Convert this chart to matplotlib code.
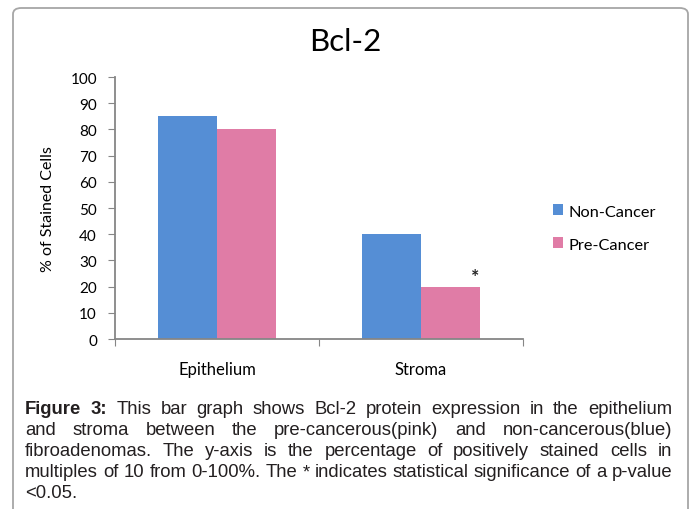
import matplotlib
matplotlib.use("Agg")
import matplotlib.pyplot as plt
from matplotlib.patches import FancyBboxPatch
import numpy as np

categories = ["Epithelium", "Stroma"]
series_names = ["Non-Cancer", "Pre-Cancer"]
non_cancer = [85, 40]
pre_cancer = [80, 20]
yticks = [0, 10, 20, 30, 40, 50, 60, 70, 80, 90, 100]
title = "Bcl-2"
ylabel = "% of Stained Cells"
colors = ["#558ed5", "#e07ca6"]

caption_lines = [
    [("Figure", True), ("3:", True), ("This", False), ("bar", False), ("graph", False), ("shows", False),
     ("Bcl-2", False), ("protein", False), ("expression", False), ("in", False), ("the", False), ("epithelium", False)],
    [(w, False) for w in "and stroma between the pre-cancerous(pink) and non-cancerous(blue)".split()],
    [(w, False) for w in "fibroadenomas. The y-axis is the percentage of positively stained cells in".split()],
    [(w, False) for w in "multiples of 10 from 0-100%.  The * indicates statistical significance of a p-value".split()],
    [(w, False) for w in "<0.05.".split()],
]

W, H = 694, 510
fig = plt.figure(figsize=(W / 100, H / 100), dpi=100)
fig.patch.set_facecolor("white")

FONT = "Lato"
CAP_FONT, cap_fs = "Liberation Sans", 13.3

# outer rounded frame
frame = FancyBboxPatch((13 / W, -0.05), (688 - 13) / W, (H - 9) / H + 0.05,
                       boxstyle="round,pad=0,rounding_size=0.012",
                       transform=fig.transFigure, facecolor="none",
                       edgecolor="#a6a6a6", linewidth=1.3, clip_on=False)
fig.patches.append(frame)

ax = fig.add_axes([115 / W, (H - 340) / H, (523 - 115) / W, (340 - 78) / H])
x = np.arange(len(categories))
bw = 0.287
ax.bar(x - bw / 2, non_cancer, bw, color=colors[0], label=series_names[0])
ax.bar(x + bw / 2, pre_cancer, bw, color=colors[1], label=series_names[1])
ax.annotate("*", (x[1] + bw / 2, pre_cancer[1]), xytext=(18, 1), textcoords="offset points",
            ha="center", va="bottom", fontsize=14, fontweight="bold", fontfamily=FONT, color="#222222")

ax.set_xlim(-0.5, 1.5)
ax.set_ylim(0, 100)
ax.set_yticks(yticks)
ax.set_yticklabels([str(v) for v in yticks], fontsize=11, fontfamily=FONT)
ax.set_xticks([-0.5, 0.5, 1.5])
ax.set_xticklabels([])
ax.set_xticks(x, minor=True)
ax.set_xticklabels(categories, minor=True, fontsize=12, fontfamily=FONT)
ax.tick_params(axis="x", which="minor", length=0, pad=16)
ax.tick_params(axis="x", which="major", length=5, color="#868686", direction="out")
ax.tick_params(axis="y", length=5, color="#868686", pad=8)
for s in ["top", "right"]:
    ax.spines[s].set_visible(False)
for s in ["left", "bottom"]:
    ax.spines[s].set_color("#868686")
    ax.spines[s].set_linewidth(1.3)
ax.set_ylabel(ylabel, fontsize=11.5, fontfamily=FONT, labelpad=11)

fig.text(345 / W, 1 - 42 / H, title, ha="center", va="center", fontsize=22.5, fontfamily=FONT)

leg = ax.legend(loc="center left", bbox_to_anchor=(538 / W, 1 - 229 / H), bbox_transform=fig.transFigure,
                frameon=False, prop={"family": FONT, "size": 11.8}, handlelength=0.65, handleheight=0.65,
                handletextpad=0.3, labelspacing=1.15)

# justified caption
renderer = fig.canvas.get_renderer()
left, right = 25, 672
y0, dy = 414, 21
for i, line in enumerate(caption_lines):
    ypix = y0 + i * dy
    texts = []
    widths = []
    for w, b in line:
        t = fig.text(0, 1 - ypix / H, w, fontsize=cap_fs, fontfamily=CAP_FONT,
                     fontweight="bold" if b else "normal", color="#231f20", va="baseline", ha="left")
        bb = t.get_window_extent(renderer)
        texts.append(t)
        widths.append(bb.width)
    if i == len(caption_lines) - 1:
        space = 4
    else:
        space = (right - left - sum(widths)) / (len(texts) - 1)
    xp = left
    for t, wd in zip(texts, widths):
        t.set_x(xp / W)
        xp += wd + space

fig.savefig("out.png", dpi=100)
